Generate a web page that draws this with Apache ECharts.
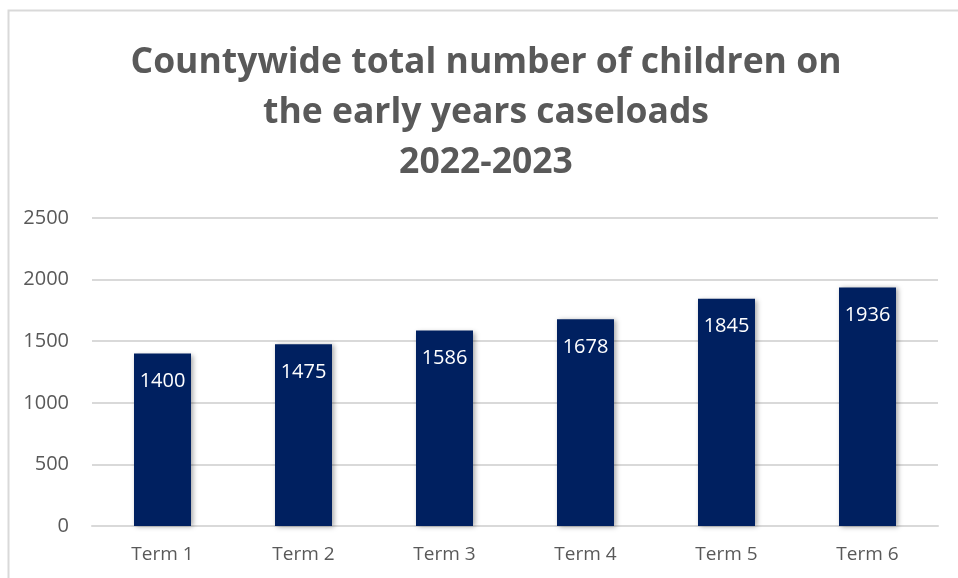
<!DOCTYPE html>
<html>
<head>
<meta charset="utf-8">
<script src="https://cdn.jsdelivr.net/npm/echarts@6/dist/echarts.min.js"></script>
<style>
  html, body { margin: 0; padding: 0; background: #fff; }
  #chart { width: 958px; height: 578px; }
</style>
</head>
<body>
<div id="chart"></div>
<script>
// Caseload totals per term, 2022-2023
const terms = ['Term 1', 'Term 2', 'Term 3', 'Term 4', 'Term 5', 'Term 6'];
const children = [1400, 1475, 1586, 1678, 1845, 1936];
const titleLines = ['Countywide total number of children on', 'the early years caseloads', '2022-2023'];

const FONT = '"Open Sans", Lato, "Liberation Sans", sans-serif';
const GREY = '#595959';

const chart = echarts.init(document.getElementById('chart'), null, { renderer: 'canvas' });

chart.setOption({
  animation: false,
  backgroundColor: '#ffffff',
  textStyle: { fontFamily: FONT },
  graphic: [{
    type: 'rect',
    shape: { x: 8.5, y: 10.5, width: 1000, height: 700 },
    style: { fill: 'none', stroke: '#d9d9d9', lineWidth: 2 },
    silent: true,
    z: -1
  }],
  title: {
    text: titleLines.join('\n'),
    left: 481,
    textAlign: 'center',
    top: 33,
    textStyle: {
      fontFamily: FONT,
      fontSize: 35.5,
      fontWeight: 'bold',
      color: GREY,
      lineHeight: 50
    }
  },
  grid: { left: 92, right: 20, top: 218, bottom: 52, containLabel: false },
  xAxis: {
    type: 'category',
    data: terms,
    axisLine: { show: true, lineStyle: { color: '#d9d9d9', width: 2 } },
    axisTick: { show: false },
    axisLabel: { color: GREY, fontSize: 19, margin: 19, fontFamily: FONT }
  },
  yAxis: {
    type: 'value',
    min: 0,
    max: 2500,
    interval: 500,
    axisLine: { show: false },
    axisTick: { show: false },
    splitLine: { lineStyle: { color: '#d9d9d9', width: 2 } },
    axisLabel: {
      color: GREY, fontSize: 20, margin: 23, fontFamily: FONT,
      formatter: v => String(v)
    }
  },
  series: [{
    type: 'bar',
    data: children,
    barWidth: 57,
    itemStyle: {
      color: '#002060',
      shadowColor: 'rgba(0,0,0,0.35)',
      shadowBlur: 5,
      shadowOffsetX: 2,
      shadowOffsetY: 1
    },
    label: {
      show: true,
      position: 'insideTop',
      distance: 18,
      color: '#ffffff',
      fontSize: 20,
      fontFamily: FONT
    }
  }]
});
</script>
</body>
</html>
